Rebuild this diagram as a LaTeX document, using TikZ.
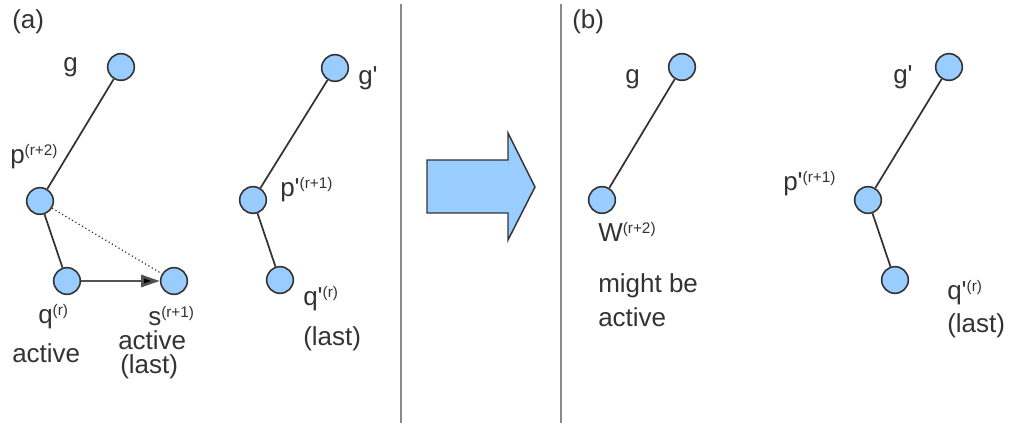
\documentclass[tikz,border=0pt]{standalone}
\usepackage{fontspec}
\setmainfont{Liberation Sans}
\usetikzlibrary{arrows.meta}
\definecolor{nodefill}{HTML}{99CCFF}
\definecolor{ink}{HTML}{333333}
\definecolor{divider}{HTML}{8A8A8A}
\newcommand{\sps}[1]{\raisebox{6.5pt}{\fontsize{11.5}{12}\selectfont #1}}
\newcommand{\pr}{\textquotesingle}
\begin{document}
\begin{tikzpicture}[x=0.75pt,y=-0.75pt,
  vtx/.style={circle,draw=ink,fill=nodefill,line width=1.2pt,minimum size=20pt,inner sep=0pt},
  lbl/.style={text=ink,font=\fontsize{19.5}{25.5}\selectfont,inner sep=0pt,anchor=base west},
  link/.style={draw=ink,line width=1.3pt},
  dots/.style={draw=ink,dotted,line width=0.9pt},
  move/.style={draw=ink!85!white,line width=2pt,-{Triangle[length=14pt,width=9pt,fill=black]}},
  divline/.style={draw=divider,line width=1.6pt},
  bigarrow/.style={draw=ink,fill=nodefill,line width=1.1pt,line join=miter}]
\useasboundingbox (0,0) rectangle (1011,423);
% dividers
\coordinate (d1t) at (401,4); \coordinate (d1b) at (401,423);
\coordinate (d2t) at (561,4); \coordinate (d2b) at (561,423);
\draw[divline] (d1t) -- (d1b);
\draw[divline] (d2t) -- (d2b);
% block arrow
\draw[bigarrow] (427,160) -- (508,160) -- (508,133) -- (535,187) -- (508,240) -- (508,213) -- (427,213) -- cycle;
% panel (a)
\node[lbl] (la) at (12,29) {(a)};
\node[vtx] (g) at (121,67) {};
\node[vtx] (p) at (40,201) {};
\node[vtx] (q) at (67,281) {};
\node[vtx] (s) at (174,281) {};
\draw[link] (g) -- (p);
\draw[link] (p) -- (q);
\draw[dots] (p) -- (s);
\draw[move] (q) -- (s);
\node[lbl] (lg) at (63,72) {g};
\node[lbl] (lp) at (10,164) {p\sps{(r+2)}};
\node[lbl] (lq) at (38,324) {q\sps{(r)}};
\node[lbl] (lqa) at (12,363) {active};
\node[lbl] (ls) at (148,326) {s\sps{(r+1)}};
\node[lbl] (lsa) at (118,350) {active};
\node[lbl] (lsl) at (120,374) {(last)};
\node[vtx] (g2) at (335,68) {};
\node[vtx] (p2) at (253,200) {};
\node[vtx] (q2) at (280,280) {};
\draw[link] (g2) -- (p2);
\draw[link] (p2) -- (q2);
\node[lbl] (lg2) at (358,85) {g\pr};
\node[lbl] (lp2) at (280,197) {p\pr\sps{(r+1)}};
\node[lbl] (lq2) at (303,306) {q\pr\sps{(r)}};
\node[lbl] (lq2l) at (303,346) {(last)};
% panel (b)
\node[lbl] (lb) at (572,29) {(b)};
\node[vtx] (bg) at (682,67) {};
\node[vtx] (bw) at (602,200) {};
\draw[link] (bg) -- (bw);
\node[lbl] (lbg) at (625,84) {g};
\node[lbl] (lbw) at (598,242) {W\sps{(r+2)}};
\node[lbl] (lbm) at (598,293) {might be};
\node[lbl] (lbm2) at (598,327) {active};
\node[vtx] (bg2) at (949,67) {};
\node[vtx] (bp2) at (868,200) {};
\node[vtx] (bq2) at (895,280) {};
\draw[link] (bg2) -- (bp2);
\draw[link] (bp2) -- (bq2);
\node[lbl] (lbg2) at (893,84) {g\pr};
\node[lbl] (lbp2) at (783,191) {p\pr\sps{(r+1)}};
\node[lbl] (lbq2) at (947,300) {q\pr\sps{(r)}};
\node[lbl] (lbq2l) at (947,333) {(last)};
\end{tikzpicture}
\end{document}
